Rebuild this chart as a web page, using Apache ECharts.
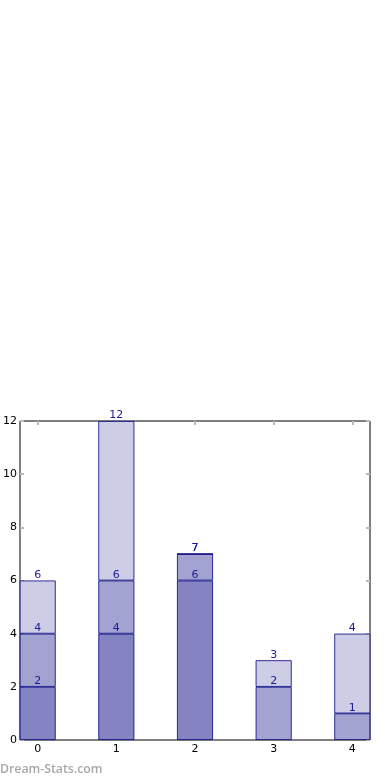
<!DOCTYPE html>
<html><head><meta charset="utf-8">
<script src="https://cdn.jsdelivr.net/npm/echarts@6/dist/echarts.min.js"></script>
<style>html,body{margin:0;padding:0;background:#fff}#c{width:390px;height:780px}</style>
</head><body><div id="c"></div>
<script>
const categories = [0, 1, 2, 3, 4];
const seriesA = [2, 4, 6, null, null];
const seriesB = [2, 2, 1, 2, 1];
const seriesC = [2, 6, 0, 1, 3];
const yTicks = [0, 2, 4, 6, 8, 10, 12];

const colors = ['#8484c2', '#a3a3d1', '#cdcde5'];
const all = [seriesA, seriesB, seriesC];
function cum(si, i) {
  let s = 0;
  for (let k = 0; k <= si; k++) s += (all[k][i] || 0);
  return s;
}
const series = all.map((arr, si) => ({
  type: 'bar',
  stack: 'total',
  barWidth: 36,
  dimensions: ['v', 'c'],
  encode: { x: 'c', y: 'v' },
  data: categories.map((c, i) => [arr[i], c]),
  itemStyle: { color: colors[si], borderColor: '#000080', borderWidth: 0.8 },
  label: {
    show: true, position: 'top', distance: 0,
    color: '#1a1a99', fontSize: 11, fontFamily: 'DejaVu Sans',
    formatter: p => (p.value[0] === null || p.value[0] === undefined) ? '' : String(cum(si, p.dataIndex))
  },
  emphasis: { disabled: true },
  animation: false
}));

const tickStyle = { show: true, inside: true, length: 4, lineStyle: { color: '#b8b8b8', width: 2 } };
const chart = echarts.init(document.getElementById('c'));
chart.setOption({
  animation: false,
  grid: { left: 19, right: 20, top: 421, bottom: 40, show: true, borderColor: '#000', borderWidth: 1, backgroundColor: 'transparent' },
  xAxis: [{
    type: 'value', min: -0.225, max: 4.225,
    axisLine: { show: false, onZero: false }, splitLine: { show: false },
    axisTick: Object.assign({ customValues: categories }, tickStyle),
    axisLabel: { customValues: categories, color: '#000', fontSize: 11, fontFamily: 'DejaVu Sans', margin: 4 }
  }, {
    type: 'value', position: 'top', min: -0.225, max: 4.225,
    axisLine: { show: false, onZero: false }, splitLine: { show: false },
    axisTick: Object.assign({ customValues: categories }, tickStyle),
    axisLabel: { show: false }
  }],
  yAxis: [{
    type: 'value', min: 0, max: 12, interval: 2,
    axisLine: { show: false, onZero: false }, splitLine: { show: false },
    axisTick: tickStyle,
    axisLabel: { color: '#000', fontSize: 11, fontFamily: 'DejaVu Sans', margin: 3 }
  }, {
    type: 'value', position: 'right', min: 0, max: 12, interval: 2,
    axisLine: { show: false, onZero: false }, splitLine: { show: false },
    axisTick: tickStyle, axisLabel: { show: false }
  }],
  series: series,
  graphic: [{
    type: 'text', left: 0, top: 763,
    style: { text: 'Dream-Stats.com', fill: '#a8a8a8', font: '600 12.3px "Open Sans"' }
  }]
});
</script></body></html>
